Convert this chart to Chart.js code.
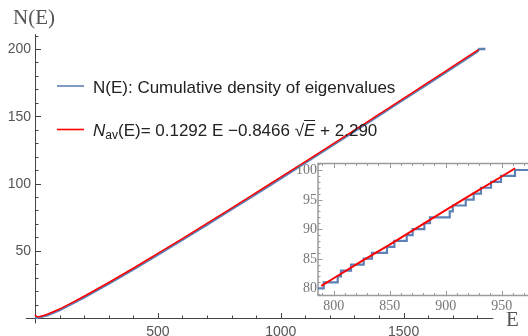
<!DOCTYPE html>
<html>
<head>
<meta charset="utf-8">
<script src="https://cdn.jsdelivr.net/npm/chart.js@4"></script>
<style>
  html, body { margin: 0; padding: 0; overflow: hidden; background: #fff; }
  #wrap { position: relative; width: 528px; height: 336px; overflow: hidden; }
  #main { position: absolute; left: 0; top: 0; }
  #inset { position: absolute; left: 280px; top: 150px; }
  .lab { position: absolute; font-family: "Liberation Serif", serif; font-size: 21px; color: #555; line-height: 1; }
  .leg { position: absolute; font-family: "Liberation Sans", Arial, sans-serif; font-size: 17px; color: #222; white-space: nowrap; line-height: 1; }
  .leg sub { font-size: 12px; position: relative; top: 3px; vertical-align: baseline; }
  .leg .ov { border-top: 1px solid #222; }
</style>
</head>
<body>
<div id="wrap">
  <canvas id="main" width="528" height="336"></canvas>
  <canvas id="inset" width="260" height="175"></canvas>
  <div class="lab" style="left:13px;top:7px">N(E)</div>
  <div class="lab" style="left:506px;top:309px">E</div>
  <div class="leg" style="left:93px;top:79px">N(E): Cumulative density of eigenvalues</div>
  <div class="leg" style="left:93px;top:122px"><i>N</i><sub>av</sub>(E)= 0.1292 E −0.8466 √<span class="ov"><i>E</i></span> + 2.290</div>
</div>
<script>
// main plot
const avE = [0, 10, 25, 50, 100, 150, 200, 300, 400, 500, 600, 700, 800, 900, 1000, 1100, 1200, 1300, 1400, 1500, 1600, 1700, 1805];
const avN = [2.3, 0.9, 1.3, 2.8, 6.7, 11.3, 16.2, 26.4, 37.0, 48.0, 59.1, 70.3, 81.7, 93.2, 104.7, 116.3, 128.0, 139.7, 151.5, 163.3, 175.1, 187.0, 199.5];
const cumE = [0, 12, 50, 100, 200, 300, 400, 500, 600, 700, 800, 900, 1000, 1100, 1200, 1300, 1400, 1500, 1600, 1700, 1800, 1808, 1833];
const cumN = [0, 0.3, 1.9, 5.9, 15.3, 25.5, 36.1, 47.1, 58.2, 69.4, 80.8, 92.3, 103.8, 115.4, 127.1, 138.8, 150.6, 162.4, 174.2, 186.1, 198.1, 200, 200];
const xMajor = [500, 1000, 1500];
const yMajor = [50, 100, 150, 200];

// inset: eigenvalues where N(E) steps up by one, starting from N = 80
const zoomStart = 80;
const zoomEig = [791.1, 803.6, 806.5, 815.5, 826.8, 834.2, 847.6, 854.2, 865.2, 870.5, 881.0, 886.0, 903.6, 906.3, 917.9, 925.0, 931.5, 940.5, 949.4, 961.9];
const zoomAvE = [789, 800, 825, 850, 875, 900, 925, 950, 962];
const zoomAvN = [80.4, 81.7, 84.6, 87.4, 90.3, 93.2, 96.1, 98.9, 100.3];
const zxMajor = [800, 850, 900, 950];
const zyMajor = [80, 85, 90, 95, 100];

const BLUE = "#5E81B5";
const RED = "#FF0000";

function pts(xs, ys) {
  return xs.map((v, i) => ({ x: v, y: ys[i] }));
}

// mathematica style axes through the origin, ticks pointing inwards
const mainAxes = {
  id: "mainAxes",
  beforeDatasetsDraw(chart) {
    const { ctx, chartArea: a, scales: { x, y } } = chart;
    const x0 = Math.round(x.getPixelForValue(0)) + 0.5;
    const y0 = Math.round(y.getPixelForValue(0)) + 0.5;
    ctx.save();
    ctx.strokeStyle = "#444";
    ctx.lineWidth = 1;
    ctx.beginPath();
    ctx.moveTo(a.left, y0);
    ctx.lineTo(a.right, y0);
    ctx.moveTo(x0, a.bottom);
    ctx.lineTo(x0, a.top);
    for (let v = 100; v < x.max; v += 100) {
      const px = Math.round(x.getPixelForValue(v)) + 0.5;
      ctx.moveTo(px, y0);
      ctx.lineTo(px, y0 - (xMajor.includes(v) ? 5.5 : 3));
    }
    for (let v = 10; v < y.max; v += 10) {
      const py = Math.round(y.getPixelForValue(v)) + 0.5;
      ctx.moveTo(x0, py);
      ctx.lineTo(x0 + (yMajor.includes(v) ? 5.5 : 3), py);
    }
    ctx.stroke();
    ctx.fillStyle = "#555";
    ctx.font = '14px "Liberation Sans", Arial, sans-serif';
    ctx.textBaseline = "middle";
    ctx.textAlign = "center";
    xMajor.forEach((v) => ctx.fillText(v, x.getPixelForValue(v), y0 + 13.5));
    ctx.textAlign = "right";
    yMajor.forEach((v) => ctx.fillText(v, x0 - 4.5, y.getPixelForValue(v) + 0.5));
    ctx.restore();
  },
  // legend swatches, text sits in html next to them
  afterDraw(chart) {
    const ctx = chart.ctx;
    const rows = [86, 129.5];
    ctx.save();
    ctx.lineWidth = 1.6;
    chart.data.datasets.forEach((ds, i) => {
      ctx.strokeStyle = ds.borderColor;
      ctx.beginPath();
      ctx.moveTo(57, rows[i]);
      ctx.lineTo(84, rows[i]);
      ctx.stroke();
    });
    ctx.restore();
  },
};

// framed inset, ticks on the frame pointing inwards
const insetFrame = {
  id: "insetFrame",
  beforeDatasetsDraw(chart) {
    const { ctx, chartArea: a, scales: { x, y } } = chart;
    ctx.save();
    ctx.strokeStyle = "#9a9a9a";
    ctx.lineWidth = 1.5;
    ctx.strokeRect(a.left, a.top, a.right - a.left, a.bottom - a.top);
    ctx.lineWidth = 1;
    ctx.beginPath();
    for (let v = 790; v < x.max; v += 10) {
      const px = Math.round(x.getPixelForValue(v)) + 0.5;
      const len = v % 50 === 0 ? 4.5 : 2.5;
      ctx.moveTo(px, a.bottom);
      ctx.lineTo(px, a.bottom - len);
      ctx.moveTo(px, a.top);
      ctx.lineTo(px, a.top + len);
    }
    for (let v = 79; v < y.max; v += 1) {
      const py = Math.round(y.getPixelForValue(v)) + 0.5;
      ctx.moveTo(a.left, py);
      ctx.lineTo(a.left + (v % 5 === 0 ? 4.5 : 2.5), py);
    }
    ctx.stroke();
    ctx.fillStyle = "#777";
    ctx.font = '14px "Liberation Serif", serif';
    ctx.textBaseline = "middle";
    ctx.textAlign = "center";
    zxMajor.forEach((v) => ctx.fillText(v, x.getPixelForValue(v), a.bottom + 10.5));
    ctx.textAlign = "right";
    zyMajor.forEach((v) => ctx.fillText(v, a.left - 1, y.getPixelForValue(v) + 0.5));
    ctx.restore();
  },
};

new Chart(document.getElementById("main"), {
  type: "line",
  data: {
    datasets: [
      {
        label: "N(E): Cumulative density of eigenvalues",
        data: pts(cumE, cumN),
        borderColor: BLUE,
        borderWidth: 2.4,
        pointRadius: 0,
        order: 2,
      },
      {
        label: "Nav(E)",
        data: pts(avE, avN),
        borderColor: RED,
        borderWidth: 1.5,
        pointRadius: 0,
        cubicInterpolationMode: "monotone",
        order: 1,
      },
    ],
  },
  options: {
    responsive: false,
    animation: false,
    devicePixelRatio: 1,
    layout: { padding: { left: 25.9, right: 34.7, top: 34.2, bottom: 12.6 } },
    scales: {
      x: { type: "linear", display: false, min: -37, max: 1865 },
      y: { type: "linear", display: false, min: -4, max: 211 },
    },
    plugins: { legend: { display: false }, tooltip: { enabled: false } },
  },
  plugins: [mainAxes],
});

// step data for the inset: one point per eigenvalue
const zoomSteps = [{ x: 786, y: zoomStart }];
zoomEig.forEach((e, i) => zoomSteps.push({ x: e, y: zoomStart + i + 1 }));
zoomSteps.push({ x: 980, y: zoomStart + zoomEig.length });

new Chart(document.getElementById("inset"), {
  type: "line",
  data: {
    datasets: [
      {
        data: zoomSteps,
        borderColor: BLUE,
        borderWidth: 2.2,
        pointRadius: 0,
        stepped: true,
        order: 2,
      },
      {
        data: pts(zoomAvE, zoomAvN),
        borderColor: RED,
        borderWidth: 2,
        pointRadius: 0,
        order: 1,
      },
    ],
  },
  options: {
    responsive: false,
    animation: false,
    devicePixelRatio: 1,
    layout: { padding: { left: 38, right: 5, top: 13.5, bottom: 29.5 } },
    scales: {
      x: { type: "linear", display: false, min: 786, max: 979.75 },
      y: { type: "linear", display: false, min: 78.78, max: 101.1 },
    },
    plugins: { legend: { display: false }, tooltip: { enabled: false } },
  },
  plugins: [insetFrame],
});
</script>
</body>
</html>
